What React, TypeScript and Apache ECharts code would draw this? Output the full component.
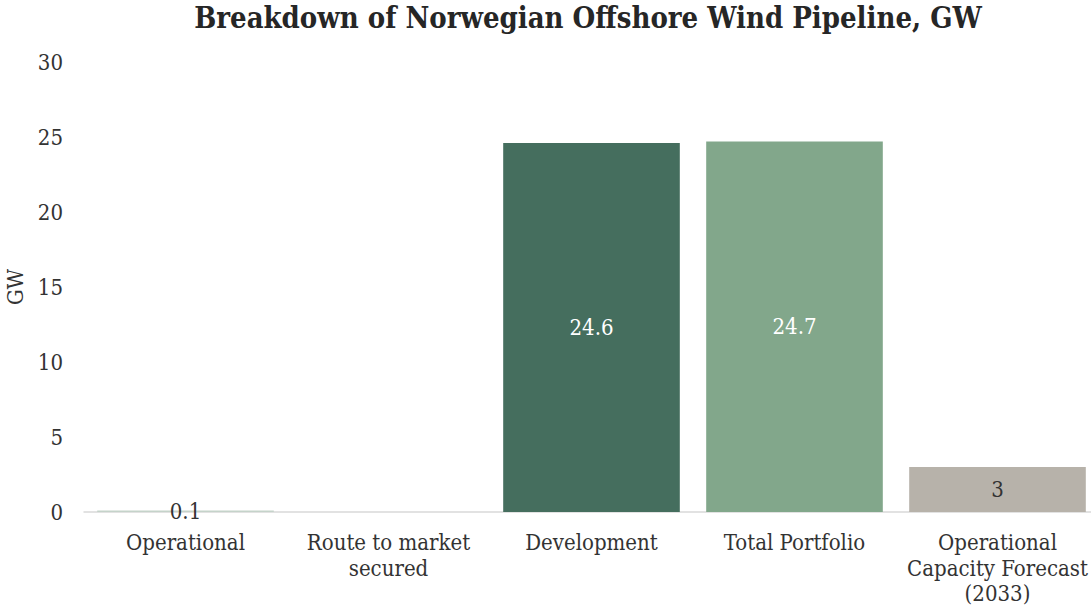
import React, { useEffect, useRef } from "react";
import * as echarts from "echarts";

const categories = [
  "Operational",
  "Route to market\nsecured",
  "Development",
  "Total Portfolio",
  "Operational\nCapacity Forecast\n(2033)",
];
const values = [0.1, 0, 24.6, 24.7, 3];
const barColors = ["#c5d3ca", "#9fb8a6", "#456e5e", "#82a78b", "#b7b2aa"];
const labelColors = ["#333333", "#333333", "#ffffff", "#ffffff", "#333333"];
const yTicks = [0, 5, 10, 15, 20, 25, 30];

const FONT = "DejaVu Serif Condensed";

export default function App() {
  const ref = useRef<HTMLDivElement>(null);
  useEffect(() => {
    if (!ref.current) return;
    const chart = echarts.init(ref.current, null, { renderer: "svg" });
    chart.setOption({
      animation: false,
      title: {
        text: "Breakdown of Norwegian Offshore Wind Pipeline, GW",
        left: 583,
        top: -2,
        textAlign: "center",
        textStyle: {
          fontFamily: FONT,
          fontWeight: "bold",
          fontSize: 29,
          color: "#262626",
        },
      },
      grid: {
        left: 84,
        width: 1015,
        top: 62,
        bottom: 101,
        containLabel: false,
        outerBoundsMode: "none",
      },
      xAxis: {
        type: "category",
        data: categories,
        axisLine: { lineStyle: { color: "#d9d9d9", width: 1.5 } },
        axisTick: { show: false },
        axisLabel: {
          interval: 0,
          margin: 18,
          fontFamily: FONT,
          fontSize: 22,
          lineHeight: 25.5,
          color: "#333333",
        },
      },
      yAxis: {
        type: "value",
        min: yTicks[0],
        max: yTicks[yTicks.length - 1],
        interval: 5,
        name: "GW",
        nameLocation: "middle",
        nameGap: 57,
        nameTextStyle: { fontFamily: FONT, fontSize: 22, color: "#333333" },
        axisLine: { show: false },
        axisTick: { show: false },
        splitLine: { show: false },
        axisLabel: {
          margin: 21,
          fontFamily: FONT,
          fontSize: 22,
          color: "#333333",
        },
      },
      series: [
        {
          type: "bar",
          barCategoryGap: "13%",
          data: values.map((v, i) => ({
            value: v,
            itemStyle: { color: barColors[i] },
            label: {
              show: v > 0,
              position: "inside",
              color: labelColors[i],
              fontFamily: FONT,
              fontSize: 22,
            },
          })),
        },
      ],
    });
    return () => chart.dispose();
  }, []);
  return (
    <div
      ref={ref}
      style={{ position: "absolute", left: 0, top: 0, width: 1091, height: 613, overflow: "hidden" }}
    />
  );
}
